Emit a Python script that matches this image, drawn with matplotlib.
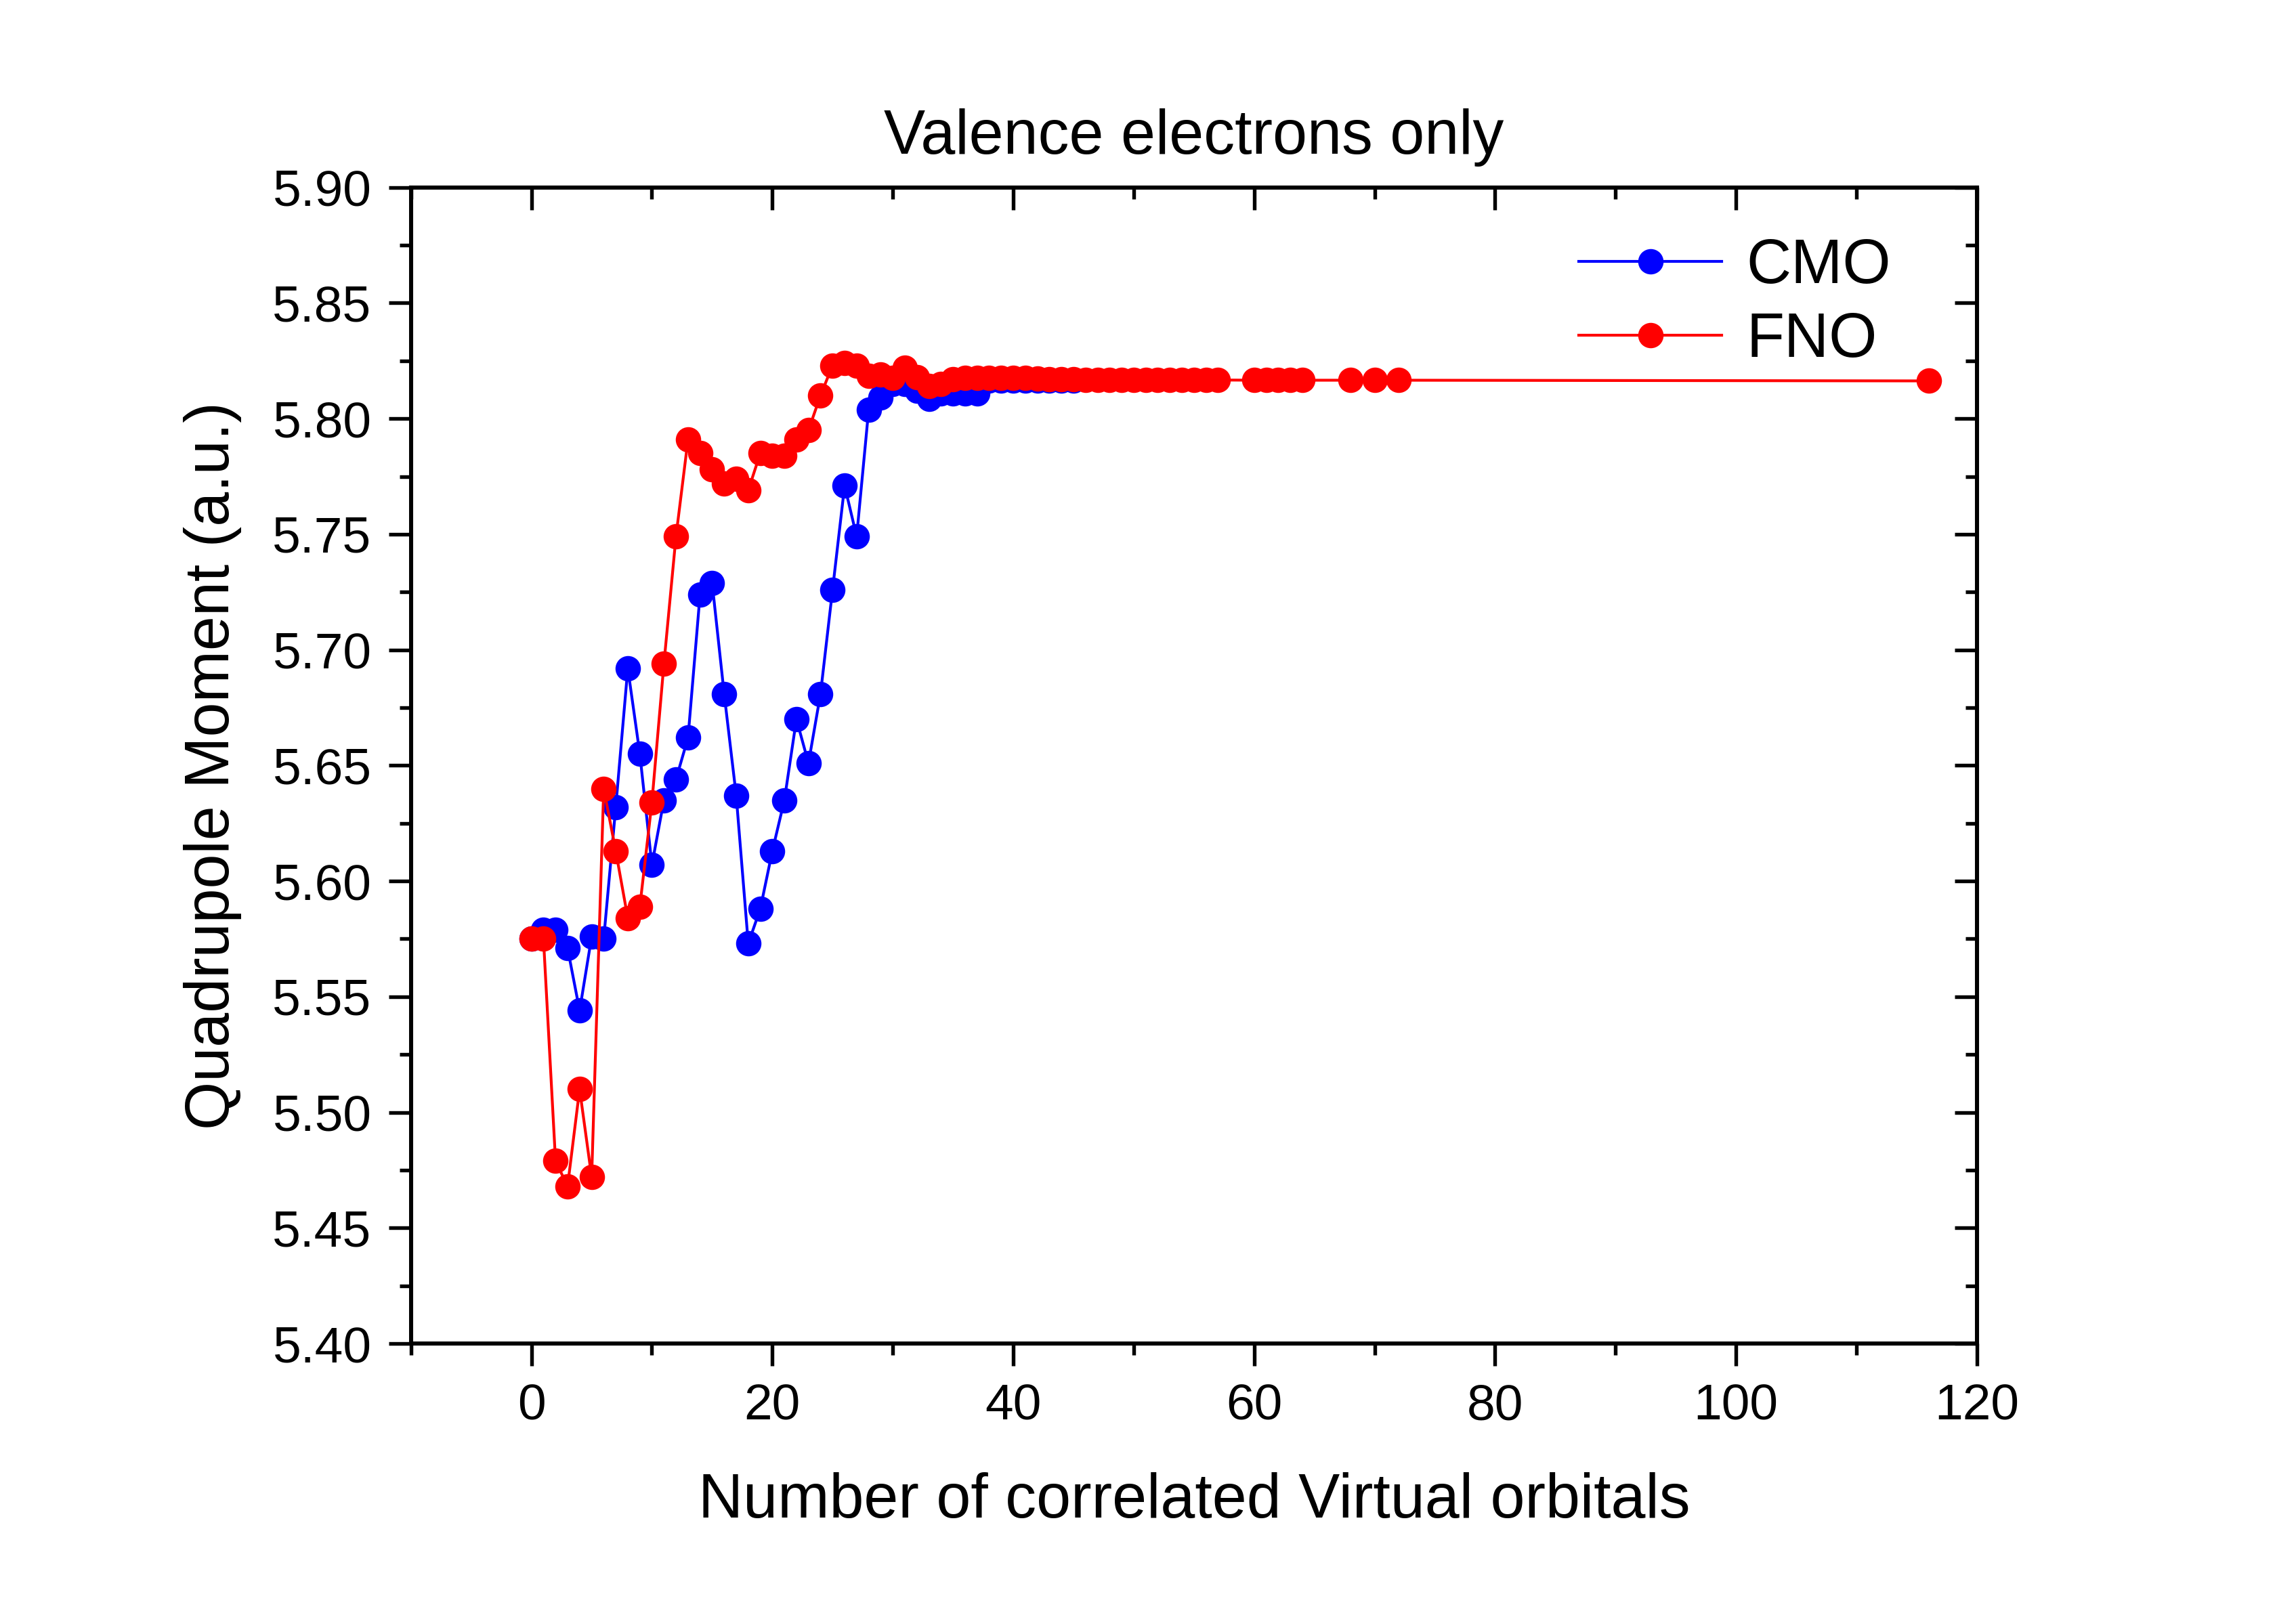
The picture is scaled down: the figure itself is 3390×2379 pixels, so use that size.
import matplotlib
matplotlib.use("Agg")
import matplotlib.pyplot as plt
from matplotlib.ticker import MultipleLocator, FormatStrFormatter

plt.rcParams['font.family'] = ['Liberation Sans', 'DejaVu Sans']

# CMO series
cmo_x = list(range(0, 46))
cmo_y = [5.575, 5.579, 5.579, 5.571, 5.544, 5.576, 5.575, 5.632, 5.692, 5.655,
         5.607, 5.635, 5.644, 5.662, 5.724, 5.729, 5.681, 5.637, 5.573, 5.588,
         5.613, 5.635, 5.670, 5.651, 5.681, 5.726, 5.771, 5.749, 5.804, 5.809,
         5.815, 5.815, 5.812, 5.8085, 5.811, 5.811, 5.811, 5.811, 5.8165, 5.8165,
         5.8165, 5.8165, 5.8165, 5.8165, 5.8165, 5.8165]

# FNO series
fno_x = list(range(0, 58)) + [60, 61, 62, 63, 64, 68, 70, 72, 116]
fno_y = [5.575, 5.575, 5.479, 5.468, 5.510, 5.472, 5.640, 5.613, 5.584, 5.589,
         5.634, 5.694, 5.749, 5.791, 5.785, 5.778, 5.772, 5.774, 5.769, 5.785,
         5.784, 5.784, 5.791, 5.795, 5.810, 5.823, 5.824, 5.823, 5.8185, 5.819,
         5.8175, 5.822, 5.818, 5.814, 5.815, 5.817, 5.8175, 5.8175, 5.8175, 5.8175,
         5.8175, 5.8175, 5.8172, 5.817, 5.817, 5.817, 5.8168, 5.8168, 5.8168, 5.8168,
         5.8167, 5.8167, 5.8167, 5.8167, 5.8167, 5.8167, 5.8167, 5.8167,
         5.8166, 5.8166, 5.8166, 5.8166, 5.8166, 5.8166, 5.8166, 5.8166, 5.8163]

title = "Valence electrons only"
xlabel = "Number of correlated Virtual orbitals"
ylabel = "Quadrupole Moment (a.u.)"

fig = plt.figure(figsize=(3390 / 300, 2379 / 300), dpi=300)
ax = fig.add_axes([0.179, 0.166, 0.682, 0.7177])

ax.plot(cmo_x, cmo_y, color='#0000ff', lw=1.0, marker='o', ms=9,
        markeredgewidth=0, label='CMO', zorder=2)
ax.plot(fno_x, fno_y, color='#ff0000', lw=1.0, marker='o', ms=9,
        markeredgewidth=0, label='FNO', zorder=3)

ax.set_xlim(-10, 120)
ax.set_ylim(5.40, 5.90)
ax.xaxis.set_major_locator(MultipleLocator(20))
ax.xaxis.set_minor_locator(MultipleLocator(10))
ax.yaxis.set_major_locator(MultipleLocator(0.05))
ax.yaxis.set_minor_locator(MultipleLocator(0.025))
ax.yaxis.set_major_formatter(FormatStrFormatter('%.2f'))

for s in ax.spines.values():
    s.set_linewidth(1.45)

ax.tick_params(axis='both', which='major', length=8, width=1.3, labelsize=18, pad=6)
ax.tick_params(axis='both', which='minor', length=4, width=1.3)
ax.tick_params(axis='both', which='both', direction='out', top=False, right=False)
# inward ticks on top and right
ax2 = ax.secondary_xaxis('top')
ax2.xaxis.set_major_locator(MultipleLocator(20))
ax2.xaxis.set_minor_locator(MultipleLocator(10))
ax2.tick_params(which='major', direction='in', length=8, width=1.3, labeltop=False)
ax2.tick_params(which='minor', direction='in', length=4, width=1.3)
ax2.set_xticklabels([])
ax3 = ax.secondary_yaxis('right')
ax3.yaxis.set_major_locator(MultipleLocator(0.05))
ax3.yaxis.set_minor_locator(MultipleLocator(0.025))
ax3.tick_params(which='major', direction='in', length=8, width=1.3, labelright=False)
ax3.tick_params(which='minor', direction='in', length=4, width=1.3)
ax3.set_yticklabels([])
for a in (ax2, ax3):
    for s in a.spines.values():
        s.set_linewidth(1.45)

ax.set_title(title, fontsize=22, pad=12)
ax.set_xlabel(xlabel, fontsize=22, labelpad=15)
ax.set_ylabel(ylabel, fontsize=22, labelpad=11)

leg = ax.legend(loc='upper right', fontsize=22, frameon=False, handlelength=2.3,
                handletextpad=0.4, labelspacing=0.25, borderaxespad=0.6,
                bbox_to_anchor=(0.985, 1.01))

fig.savefig('out.png', dpi=300, facecolor='white')
